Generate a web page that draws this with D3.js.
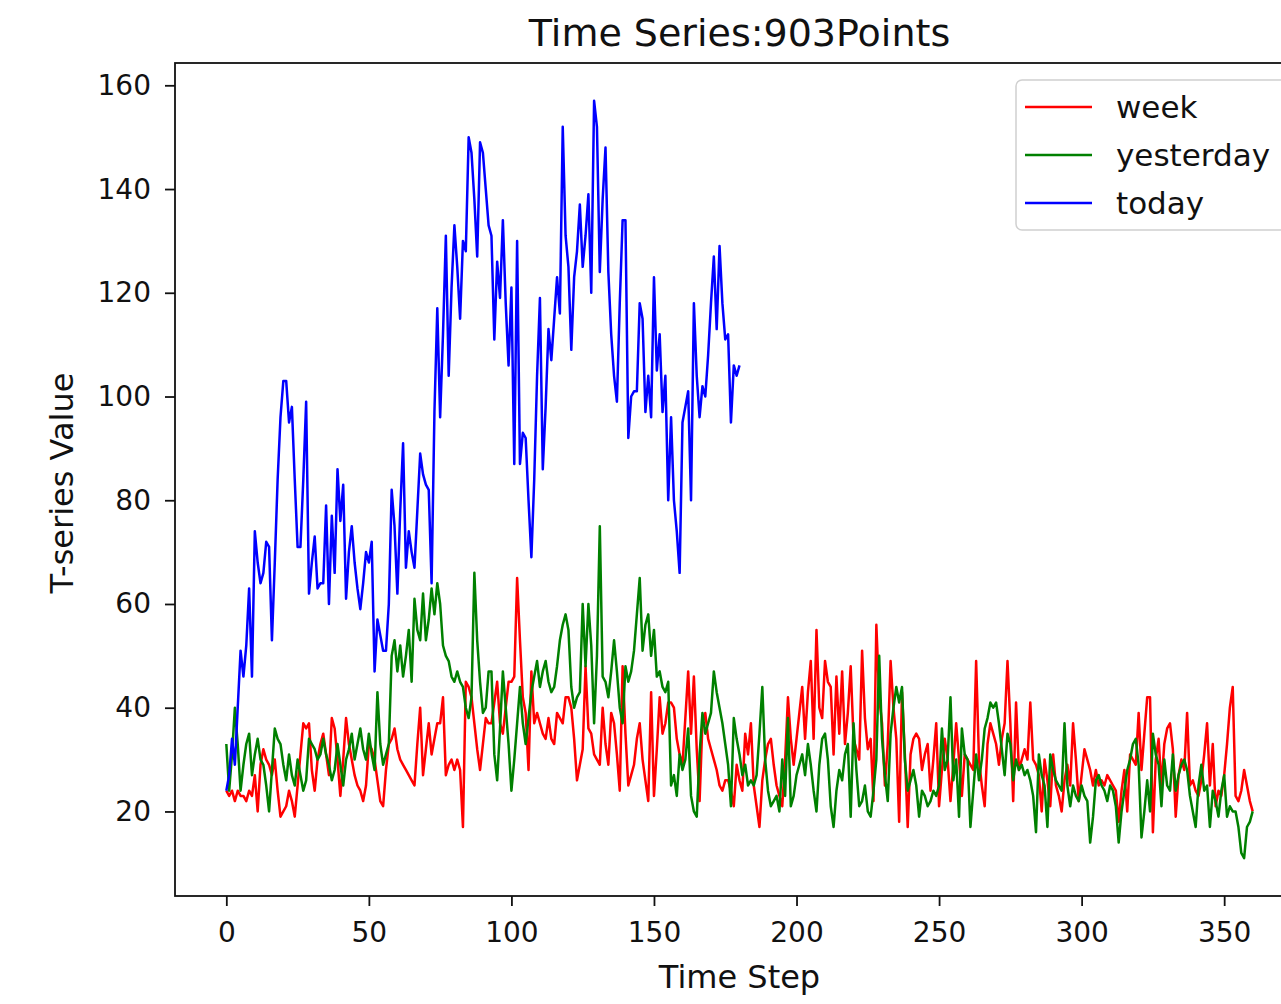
<!DOCTYPE html>
<html>
<head>
<meta charset="utf-8">
<script src="https://cdn.jsdelivr.net/npm/d3@7"></script>
<style>
    body { margin: 0; background: #fff; }
    text { font-family: "DejaVu Sans", sans-serif; fill: #111; }
</style>
</head>
<body>
<script>
//series names and colours
var seriesNames = ["week", "yesterday", "today"];
var seriesColors = ["#ff0000", "#008000", "#0000ff"];

//week series, one value per time step (0..360)
var weekValues = [
    24,23,24,22,24,23,23,22,24,23, 27,20,29,32,30,29,27,30,24,19,
    20,21,24,22,19,25,31,37,36,37, 28,24,30,33,35,31,27,38,36,30,
    23,30,38,33,30,27,25,24,22,25, 33,32,30,26,22,21,28,33,34,36,
    32,30,29,28,27,26,25,33,40,27, 32,37,31,34,37,37,42,27,29,30,
    28,30,28,17,45,44,42,37,32,28, 33,38,37,37,41,45,37,35,40,45,
    45,46,65,53,42,39,28,47,37,39, 37,35,34,38,34,33,39,38,37,42,
    42,40,34,26,29,32,48,36,35,31, 30,29,40,33,29,39,37,31,24,48,
    35,25,27,29,34,37,30,26,22,43, 23,32,42,35,37,41,41,40,34,31,
    29,38,47,35,46,32,22,37,39,34, 32,30,28,25,24,26,26,24,21,29,
    26,24,35,31,37,25,21,17,26,30, 33,34,29,25,23,21,30,42,34,29,
    34,39,44,34,43,49,34,55,40,38, 49,45,44,31,46,35,47,33,39,48,
    34,32,30,51,38,32,34,22,56,42, 37,25,33,49,40,34,18,43,31,17,
    31,34,35,34,28,31,33,24,30,37, 21,28,34,30,22,29,37,30,23,31,
    30,29,28,49,30,25,21,33,37,35, 33,29,34,37,49,37,22,41,28,30,
    32,30,41,30,29,27,20,30,26,21, 31,25,23,20,26,29,25,37,30,22,
    27,32,30,28,25,28,25,26,25,27, 26,25,24,18,24,28,20,31,30,29,
    39,28,35,42,42,16,30,34,25,33, 36,37,32,19,27,30,28,39,25,26,
    24,23,26,31,37,25,33,21,24,23, 27,33,40,44,23,22,24,28,25,22,
    20
];

//yesterday series (0..360)
var yesterdayValues = [
    33,24,31,40,33,24,29,33,35,27, 31,34,30,29,25,20,28,36,34,33,
    29,26,31,27,25,30,27,24,26,34, 33,32,30,31,34,31,29,26,28,33,
    29,25,30,32,35,30,33,36,32,30, 35,31,28,43,33,29,31,33,50,53,
    47,52,46,50,55,45,61,55,53,62, 53,57,63,58,64,60,52,50,49,46,
    45,47,45,44,40,38,42,66,53,45, 39,40,47,47,31,26,36,47,40,33,
    24,30,37,44,37,33,38,43,46,49, 44,47,49,45,43,44,48,53,56,58,
    55,44,40,42,43,60,48,60,52,37, 50,75,46,45,42,47,53,47,40,37,
    48,45,47,51,58,65,51,56,58,50, 55,46,47,44,43,45,25,27,23,31,
    28,30,36,23,20,19,31,39,35,37, 39,47,43,40,37,33,29,21,38,34,
    31,27,29,25,26,25,27,35,44,30, 24,21,22,23,20,30,23,38,21,23,
    27,29,31,27,33,29,24,20,29,34, 35,30,21,17,24,28,26,31,33,19,
    37,28,21,22,25,20,19,24,30,50, 34,27,22,35,40,44,41,44,30,24,
    26,28,25,19,24,23,21,22,24,23, 25,36,28,30,42,26,30,19,36,31,
    30,17,24,31,26,30,36,38,41,40, 41,37,32,27,35,33,26,30,28,29,
    27,28,26,23,16,31,27,25,17,31, 28,26,25,24,37,25,21,25,23,22,
    25,23,22,14,19,26,27,25,24,22, 25,24,21,14,20,24,28,30,33,34,
    29,15,20,26,20,35,31,29,21,30, 25,24,31,24,27,29,30,28,23,20,
    17,25,29,24,25,17,24,22,19,24, 27,19,21,20,20,17,12,11,17,18,
    20
];

//today series (0..180)
var todayValues = [
    24,27,34,29,40,51,46,52,63,46, 74,68,64,66,72,71,53,68,84,96,
    103,103,95,98,84,71,71,84,99,62, 68,73,63,64,64,79,60,77,66,86,
    76,83,61,70,75,68,63,59,64,70, 68,72,47,57,54,51,51,60,82,75,
    62,78,91,67,74,70,67,78,89,85, 83,82,64,97,117,96,112,131,104,121,
    133,125,115,130,128,150,147,138,127,149, 147,140,133,131,111,126,119,134,118,106,
    121,87,130,87,93,92,80,69,84,104, 119,86,98,113,107,115,123,116,152,131,
    125,109,123,128,137,125,131,139,120,157, 152,124,138,148,124,112,104,99,118,134,
    134,92,100,101,101,118,115,97,104,96, 123,105,112,97,104,80,96,80,74,66,
    95,98,101,80,118,104,96,102,100,108, 118,127,113,129,118,111,112,95,106,104,
    106
];

//tick labels
var xTicks = [0, 50, 100, 150, 200, 250, 300, 350];
var yTicks = [20, 40, 60, 80, 100, 120, 140, 160];

var titleText = "Time Series:903Points";
var xLabel = "Time Step";
var yLabel = "T-series Value";

window.onload = setChart();

function setChart(){
    //frame dimensions
    var width = 1281,
        height = 1004,
        top = 63,
        bottom = 896,
        left = 175,
        right = 1304;

    var svg = d3.select("body")
        .append("svg")
        .attr("width", width)
        .attr("height", height);

    svg.append("rect")
        .attr("width", width)
        .attr("height", height)
        .attr("fill", "#fff");

    var allSeries = [weekValues, yesterdayValues, todayValues];

    //x domain with matplotlib style 5% margins
    var xMax = d3.max(allSeries, function(s){ return s.length - 1; });
    var xScale = d3.scaleLinear()
        .domain([-0.05 * xMax, 1.05 * xMax])
        .range([left, right]);

    var yMin = d3.min(allSeries, function(s){ return d3.min(s); }),
        yMax = d3.max(allSeries, function(s){ return d3.max(s); }),
        yPad = (yMax - yMin) * 0.05;
    var yScale = d3.scaleLinear()
        .domain([yMin - yPad, yMax + yPad])
        .range([bottom, top]);

    //lines
    var line = d3.line()
        .x(function(d, i){ return xScale(i); })
        .y(function(d){ return yScale(d); });

    svg.selectAll(".series")
        .data(allSeries)
        .enter()
        .append("path")
        .attr("class", "series")
        .attr("d", line)
        .attr("fill", "none")
        .attr("stroke", function(d, i){ return seriesColors[i]; })
        .attr("stroke-width", 2.5)
        .attr("stroke-linejoin", "round");

    //axes
    var xAxis = svg.append("g")
        .attr("transform", "translate(0," + bottom + ")")
        .call(d3.axisBottom(xScale).tickValues(xTicks).tickSize(10).tickPadding(16).tickFormat(d3.format("d")));
    var yAxis = svg.append("g")
        .attr("transform", "translate(" + left + ",0)")
        .call(d3.axisLeft(yScale).tickValues(yTicks).tickSize(10).tickPadding(14).tickFormat(d3.format("d")));

    [xAxis, yAxis].forEach(function(ax){
        ax.select(".domain").remove();
        ax.selectAll("line").attr("stroke", "#111").attr("stroke-width", 1.8);
        ax.selectAll("text")
            .style("font-family", "DejaVu Sans, sans-serif")
            .style("font-size", "28px")
            .attr("fill", "#111");
    });

    //spines
    svg.append("rect")
        .attr("x", left)
        .attr("y", top)
        .attr("width", right - left)
        .attr("height", bottom - top)
        .attr("fill", "none")
        .attr("stroke", "#111")
        .attr("stroke-width", 1.8);

    //title and axis labels
    var midX = (left + right) / 2;
    svg.append("text")
        .attr("x", midX)
        .attr("y", 46)
        .attr("text-anchor", "middle")
        .style("font-size", "38px")
        .text(titleText);

    svg.append("text")
        .attr("x", midX)
        .attr("y", 988)
        .attr("text-anchor", "middle")
        .style("font-size", "32px")
        .text(xLabel);

    svg.append("text")
        .attr("transform", "translate(73," + 483 + ") rotate(-90)")
        .attr("text-anchor", "middle")
        .style("font-size", "32px")
        .text(yLabel);

    //legend
    var legend = svg.append("g")
        .attr("transform", "translate(1016,80)");

    legend.append("rect")
        .attr("width", 300)
        .attr("height", 150)
        .attr("rx", 6)
        .attr("fill", "#fff")
        .attr("fill-opacity", 0.8)
        .attr("stroke", "#d0d0d0")
        .attr("stroke-width", 1.5);

    var items = legend.selectAll(".item")
        .data(seriesNames)
        .enter()
        .append("g")
        .attr("class", "item")
        .attr("transform", function(d, i){ return "translate(0," + (27 + i * 48) + ")"; });

    items.append("line")
        .attr("x1", 9)
        .attr("x2", 76)
        .attr("stroke", function(d, i){ return seriesColors[i]; })
        .attr("stroke-width", 2.5);

    items.append("text")
        .attr("x", 100)
        .attr("dy", "0.35em")
        .style("font-size", "31px")
        .text(function(d){ return d; });
};
</script>
</body>
</html>
